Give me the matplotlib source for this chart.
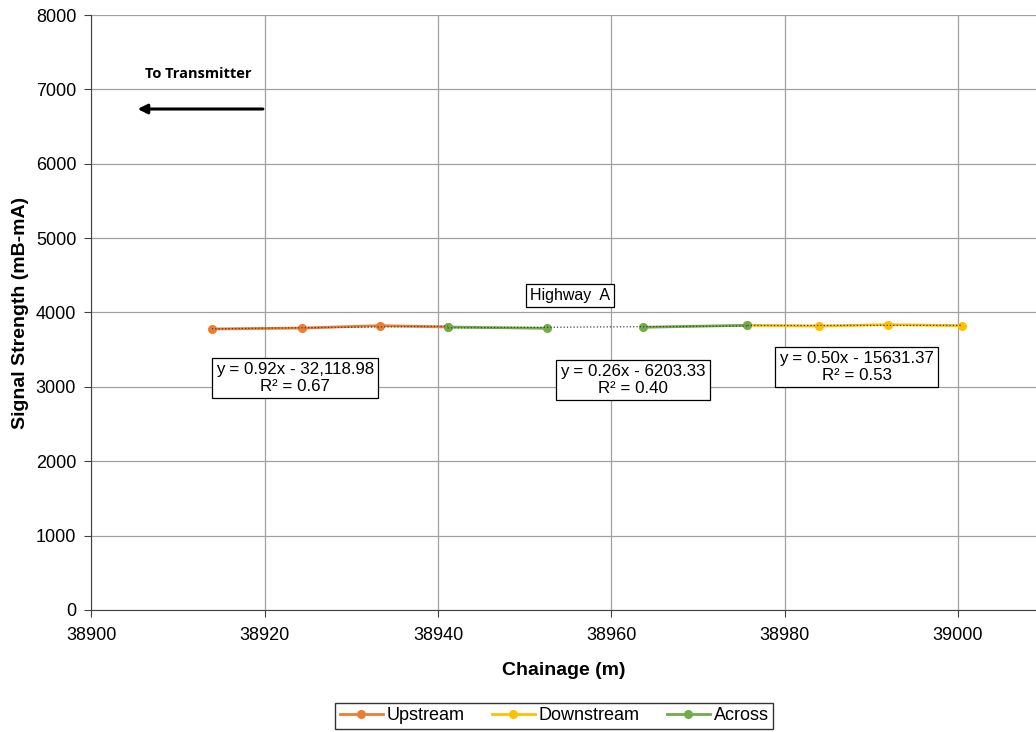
import numpy as np
import matplotlib.pyplot as plt

plt.rcParams['font.family'] = ['Liberation Sans', 'DejaVu Sans']

# data
up_x = [38913.9, 38924.3, 38933.3, 38941.1]
up_y = [3778, 3791, 3823, 3805]
down_x = [38975.7, 38984.0, 38991.9, 39000.5]
down_y = [3828, 3818, 3836, 3823]
across_x1 = [38941.1, 38952.6]
across_y1 = [3805, 3787]
across_x2 = [38963.6, 38975.7]
across_y2 = [3801, 3828]

eq_labels = ["y = 0.92x - 32,118.98\nR² = 0.67",
             "y = 0.26x - 6203.33\nR² = 0.40",
             "y = 0.50x - 15631.37\nR² = 0.53"]

c_up = '#ED7D31'
c_down = '#FFC000'
c_across = '#70AD47'

fig = plt.figure(figsize=(10.36, 7.32), dpi=100)
ax = fig.add_axes([0.0883, 0.1667, 0.9117, 0.8128])

ax.plot(up_x, up_y, '-o', color=c_up, lw=2, ms=5.5, label='Upstream', zorder=3)
ax.plot(down_x, down_y, '-o', color=c_down, lw=2, ms=5.5, label='Downstream', zorder=3)
ax.plot(across_x1, across_y1, '-o', color=c_across, lw=2, ms=5.5, label='Across', zorder=3)
ax.plot(across_x2, across_y2, '-o', color=c_across, lw=2, ms=5.5, zorder=3)

# linear trendlines
ax_all_x = across_x1 + across_x2
ax_all_y = across_y1 + across_y2
for xs, ys in [(up_x, up_y), (down_x, down_y), (ax_all_x, ax_all_y)]:
    p = np.polyfit(xs, ys, 1)
    xx = np.array([min(xs), max(xs)])
    ax.plot(xx, np.polyval(p, xx), ':', color='#404040', lw=0.9, zorder=4)

ax.set_xlim(38900, 39009)
ax.set_ylim(0, 8000)
ax.set_xticks(np.arange(38900, 39001, 20))
ax.set_yticks(np.arange(0, 8001, 1000))
ax.grid(True, color='#A0A0A0', lw=0.9)
ax.set_axisbelow(True)
for s in ['top', 'right']:
    ax.spines[s].set_visible(False)
ax.spines['left'].set_color('#404040')
ax.spines['bottom'].set_color('#404040')
ax.tick_params(labelsize=13, length=5, color='#404040')
ax.tick_params(axis='x', pad=7)
ax.tick_params(axis='y', pad=6)

ax.set_xlabel('Chainage (m)', fontsize=14, fontweight='bold', labelpad=13)
ax.set_ylabel('Signal Strength (mB-mA)', fontsize=14, fontweight='bold', labelpad=5)

box = dict(boxstyle='square,pad=0.25', fc='white', ec='black', lw=0.9)
ax.text(38923.5, 3119, eq_labels[0], ha='center', va='center', fontsize=12.2, bbox=box, zorder=5)
ax.text(38962.5, 3092, eq_labels[1], ha='center', va='center', fontsize=12.2, bbox=box, zorder=5)
ax.text(38988.3, 3267, eq_labels[2], ha='center', va='center', fontsize=12.2, bbox=box, zorder=5)
ax.text(38955.2, 4222, 'Highway  A', ha='center', va='center', fontsize=11.5,
        bbox=dict(boxstyle='square,pad=0.25', fc='white', ec='black', lw=0.9), zorder=5)

ax.text(38912.3, 7207, 'To Transmitter', ha='center', va='center', fontsize=10.5,
        fontweight='bold', family=['Open Sans', 'DejaVu Sans'])
ax.annotate('', xy=(38905.0, 6736), xytext=(38920.1, 6736),
            arrowprops=dict(arrowstyle='-|>', color='black', lw=2.2, mutation_scale=14))

fig.legend(loc='center', bbox_to_anchor=(0.535, 0.022), ncol=3, fontsize=13,
           frameon=True, fancybox=False, edgecolor='black', handlelength=2.4,
           handletextpad=0.2, columnspacing=1.5, borderpad=0.25)

fig.savefig('out.png', dpi=100)
